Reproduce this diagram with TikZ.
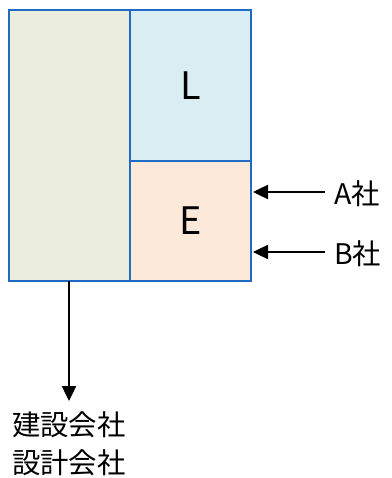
\documentclass[tikz,border=0pt]{standalone}
\usepackage{fontspec}
\setmainfont{Noto Sans CJK JP}
\usetikzlibrary{arrows.meta}
\definecolor{bordc}{HTML}{1F6BC4}
\definecolor{leftc}{HTML}{EBEEDF}
\definecolor{lc}{HTML}{DAEDF3}
\definecolor{ec}{HTML}{FDE9D9}
\tikzset{
  panel/.style={draw=bordc, line width=2bp, inner sep=0pt, outer sep=0pt, anchor=north west, font=\fontsize{38}{40}\selectfont},
  arr/.style={-{Triangle[length=15bp,width=14bp]}, line width=2.4bp, black},
  lab/.style={font=\fontsize{28.5}{38}\selectfont, inner sep=0pt, anchor=west, align=left}
}
\begin{document}
\begin{tikzpicture}[x=1bp,y=-1bp]
\useasboundingbox (0,0) rectangle (391,478);
\node[panel, fill=leftc, minimum width=121bp, minimum height=271bp] (left) at (9,10) {};
\node[panel, fill=lc, minimum width=121bp, minimum height=151bp] (L) at (130,10) {L};
\node[panel, fill=ec, minimum width=121bp, minimum height=120bp] (E) at (130,161) {E};
\node[lab] (A) at (334,194) {A社};
\node[lab] (B) at (334,254) {B社};
\node[lab] (co) at (12,444) {建設会社\\設計会社};
\coordinate (Aend) at (253,192);
\coordinate (Bend) at (253,252);
\draw[arr] (A.west -| 325,0) ++(0,-2) -- (Aend);
\draw[arr] (B.west -| 325,0) ++(0,-2) -- (Bend);
\draw[arr] (left.south -| 69,0) -- (69,401);
\end{tikzpicture}
\end{document}
